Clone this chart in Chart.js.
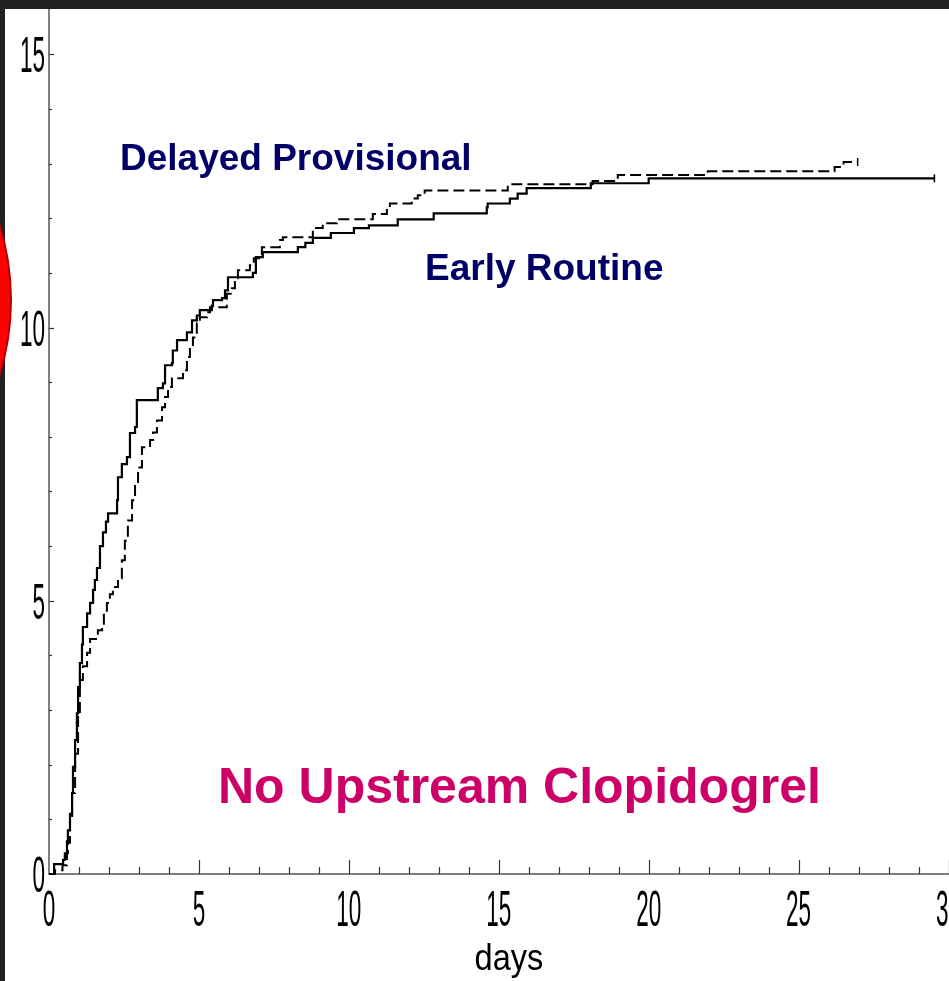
<!DOCTYPE html>
<html>
<head>
<meta charset="utf-8">
<script src="https://cdn.jsdelivr.net/npm/chart.js@4"></script>
<style>
  html, body { margin: 0; padding: 0; background: #212121; overflow: hidden; }
  #wrap { position: absolute; left: 5px; top: 9px; width: 944px; height: 972px; background: #fff; overflow: hidden; }
  #kmChart { position: absolute; left: 0; top: -5px; }
  #blob { position: absolute; left: -494px; top: 47px; width: 506px; height: 506px; border-radius: 50%;
          background: #ff0000; border: 2px solid #b30000; box-sizing: border-box; }
</style>
</head>
<body>
<div id="wrap"><canvas id="kmChart" width="949" height="977"></canvas></div>
<div id="blob"></div>
<script>
// Early Routine (solid) - cumulative event %, value reached at each day
const earlyX = [0, 0.17, 0.47, 0.53, 0.6, 0.63, 0.7, 0.77, 0.8, 0.87, 0.93, 0.97, 1.03, 1.1, 1.13, 1.27, 1.37, 1.47, 1.53, 1.6, 1.7, 1.8, 1.9, 1.97, 2.27, 2.3, 2.43, 2.6, 2.7, 2.87, 2.93, 3.63, 3.8, 3.87, 4.1, 4.13, 4.27, 4.6, 4.77, 4.93, 5.03, 5.43, 5.47, 5.77, 5.87, 5.97, 6.8, 6.9, 7.13, 8.3, 8.55, 8.8, 9.4, 10.17, 10.67, 11.63, 12.83, 14.6, 14.63, 15.37, 15.63, 15.93, 18.07, 20.0, 29.53]
const earlyY = [0, 0.18, 0.26, 0.38, 0.6, 0.8, 1.1, 1.48, 1.96, 2.45, 2.94, 3.42, 3.86, 4.2, 4.52, 4.77, 4.96, 5.2, 5.38, 5.6, 6.0, 6.25, 6.45, 6.6, 6.84, 7.26, 7.5, 7.63, 8.07, 8.18, 8.67, 8.89, 8.98, 9.31, 9.35, 9.58, 9.77, 9.91, 10.13, 10.22, 10.32, 10.4, 10.5, 10.54, 10.68, 10.92, 11.0, 11.29, 11.38, 11.47, 11.55, 11.64, 11.73, 11.82, 11.87, 11.98, 12.09, 12.2, 12.27, 12.36, 12.45, 12.55, 12.64, 12.73, 12.73]

// Delayed Provisional (dashed)
const delayedX = [0, 0.2, 0.45, 0.6, 0.63, 0.7, 0.77, 0.87, 0.97, 1.03, 1.13, 1.27, 1.37, 1.63, 1.77, 1.83, 1.93, 2.03, 2.13, 2.3, 2.43, 2.53, 2.63, 2.77, 2.87, 2.97, 3.1, 3.37, 3.47, 3.6, 3.77, 3.87, 3.97, 4.1, 4.47, 4.6, 4.7, 4.8, 4.93, 5.03, 5.27, 5.37, 5.93, 6.1, 6.2, 6.3, 6.7, 6.83, 7.1, 7.7, 7.8, 8.8, 9.13, 9.6, 10.8, 11.27, 11.37, 12.1, 12.3, 12.53, 15.3, 18.13, 18.97, 21.97, 26.2, 26.5, 26.97]
const delayedY = [0, 0.07, 0.16, 0.38, 0.57, 1.0, 1.48, 2.2, 2.94, 3.55, 3.8, 4.05, 4.3, 4.46, 4.55, 4.77, 4.96, 5.12, 5.25, 5.41, 5.74, 6.1, 6.47, 6.84, 7.15, 7.44, 7.81, 7.94, 8.08, 8.3, 8.54, 8.73, 8.91, 9.07, 9.22, 9.46, 9.64, 9.82, 10.08, 10.19, 10.28, 10.37, 10.62, 10.72, 10.9, 11.05, 11.14, 11.27, 11.47, 11.6, 11.65, 11.82, 11.91, 11.98, 12.08, 12.18, 12.27, 12.36, 12.42, 12.51, 12.62, 12.68, 12.79, 12.86, 12.94, 13.03, 13.03]

const xTickValues = [0, 5, 10, 15, 20, 25, 30]
const xTickLabels = ['0', '5', '10', '15', '20', '25', '30']
const yTickValues = [0, 5, 10, 15]
const yTickLabels = ['0', '5', '10', '15']
const xMax = 30
const yMax = 15.82

// canvas origin on the page
const OX = 5, OY = 4

const toPoints = (xs, ys) => xs.map((x, i) => ({ x, y: ys[i] }))

function condensedText(ctx, text, x, y, scaleX, align) {
  ctx.save()
  ctx.translate(x, y)
  ctx.scale(scaleX, 1)
  ctx.textAlign = align
  ctx.fillText(text, 0, 0)
  ctx.restore()
}

const axesPlugin = {
  id: 'kmAxes',
  beforeDatasetsDraw(chart) {
    const { ctx, chartArea, scales } = chart
    const xs = scales.x, ys = scales.y
    const x0 = xs.getPixelForValue(0)
    const y0 = ys.getPixelForValue(0)

    ctx.save()
    ctx.strokeStyle = '#555'
    ctx.lineWidth = 1.5
    ctx.beginPath()
    ctx.moveTo(x0, 0)
    ctx.lineTo(x0, y0)
    ctx.lineTo(chartArea.right + 2, y0)
    ctx.stroke()

    // minor + major ticks, pointing inward
    ctx.strokeStyle = '#333'
    ctx.lineWidth = 1.2
    for (let v = 1; v <= xMax; v++) {
      const px = Math.round(xs.getPixelForValue(v)) + 0.5
      const len = v % 5 === 0 ? 14 : 7
      ctx.beginPath()
      ctx.moveTo(px, y0)
      ctx.lineTo(px, y0 - len)
      ctx.stroke()
    }
    for (let v = 1; v <= Math.floor(yMax); v++) {
      const py = Math.round(ys.getPixelForValue(v)) + 0.5
      const len = v % 5 === 0 ? 5 : 3
      ctx.beginPath()
      ctx.moveTo(x0, py)
      ctx.lineTo(x0 + len, py)
      ctx.stroke()
    }

    // tick labels (narrow face)
    ctx.fillStyle = '#000'
    ctx.font = '50px "Liberation Sans", Arial, sans-serif'
    ctx.textBaseline = 'alphabetic'
    yTickValues.forEach((v, i) => {
      condensedText(ctx, yTickLabels[i], x0 - 4, ys.getPixelForValue(v) + 18, 0.45, 'right')
    })
    xTickValues.forEach((v, i) => {
      condensedText(ctx, xTickLabels[i], xs.getPixelForValue(v), y0 + 52, 0.45, 'center')
    })

    ctx.font = '37px "Liberation Sans", Arial, sans-serif'
    condensedText(ctx, 'days', 509 - OX, 970 - OY, 0.88, 'center')
    ctx.restore()
  },
  afterDraw(chart) {
    const { ctx } = chart
    ctx.save()
    ctx.textBaseline = 'alphabetic'
    ctx.textAlign = 'left'
    ctx.fillStyle = '#000066'
    ctx.font = 'bold 37px "Liberation Sans", Arial, sans-serif'
    ctx.fillText('Delayed Provisional', 120 - OX, 170 - OY)
    ctx.fillText('Early Routine', 425 - OX, 280 - OY)
    ctx.fillStyle = '#cc0066'
    ctx.font = 'bold 50px "Liberation Sans", Arial, sans-serif'
    ctx.fillText('No Upstream Clopidogrel', 218 - OX, 803 - OY)
    ctx.restore()
  }
}

const lastOnly = (n, r) => (c) => c.dataIndex === n - 1 ? r : 0

new Chart(document.getElementById('kmChart'), {
  type: 'line',
  data: {
    datasets: [
      {
        label: 'Early Routine',
        data: toPoints(earlyX, earlyY),
        borderColor: '#000',
        borderWidth: 2.2,
        stepped: 'before',
        fill: false,
        pointStyle: 'line',
        rotation: 90,
        pointRadius: lastOnly(earlyX.length, 4),
        pointBorderColor: '#000',
        pointBorderWidth: 1.5,
        clip: false,
      },
      {
        label: 'Delayed Provisional',
        data: toPoints(delayedX, delayedY),
        borderColor: '#000',
        borderWidth: 2,
        borderDash: [11, 5],
        stepped: 'before',
        fill: false,
        pointStyle: 'line',
        rotation: 90,
        pointRadius: lastOnly(delayedX.length, 4),
        pointBorderColor: '#000',
        pointBorderWidth: 1.5,
        clip: false,
      }
    ]
  },
  options: {
    responsive: false,
    animation: false,
    layout: { padding: { left: 44, top: 0, right: 0, bottom: 107 } },
    scales: {
      x: { type: 'linear', min: 0, max: xMax, display: false },
      y: { type: 'linear', min: 0, max: yMax, display: false }
    },
    plugins: {
      legend: { display: false },
      tooltip: { enabled: false }
    }
  },
  plugins: [axesPlugin]
})
</script>
</body>
</html>
